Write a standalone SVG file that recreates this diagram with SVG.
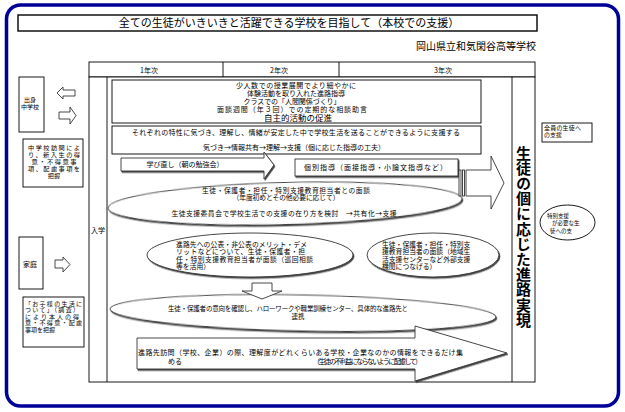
<svg xmlns="http://www.w3.org/2000/svg" width="625" height="412" viewBox="0 0 625 412">
<defs>
<filter id="sh" x="-5%" y="-10%" width="110%" height="125%"><feDropShadow dx="1" dy="1.4" stdDeviation="0" flood-color="#333" flood-opacity="0.9"/></filter>
</defs>
<style>
.s{fill:#fff;stroke:#000;stroke-width:0.9}
.l{fill:none;stroke:#000;stroke-width:0.9}
.a{fill:#fff;stroke:#333;stroke-width:0.9}
text{font-family:"Noto Sans CJK JP","Noto Sans CJK SC",sans-serif;fill:#000;font-size:7px}
.m{text-anchor:middle}
.e{text-anchor:end}
.f55{font-size:5.5px}
.f6{font-size:6px}
.f62{font-size:6.2px}
.f65{font-size:6.5px}
.f68{font-size:6.8px}
.f85{font-size:8.5px}
.f10{font-size:10px}
.f11{font-size:11px}
.v{font-size:15px;font-weight:700;writing-mode:vertical-rl;letter-spacing:0.2px}
</style>
<rect width="625" height="412" fill="#fff"/>
<rect x="6.5" y="5" width="612" height="401" rx="14" fill="none" stroke="#000099" stroke-width="3.5"/>

<g id="title">
<rect x="18" y="15" width="519" height="16" fill="#fff" stroke="#000" stroke-width="1.4"/>
<text class="m f11" x="289" y="26.5">全ての生徒がいきいきと活躍できる学校を目指して（本校での支援）</text>
</g>
<g id="school">
<text class="e f10" x="536" y="50">岡山県立和気閑谷高等学校</text>
</g>

<g id="table">
<rect class="s" x="89" y="62" width="446" height="15"/>
<line class="l" x1="223" y1="62" x2="223" y2="77"/>
<line class="l" x1="339" y1="62" x2="339" y2="77"/>
<text class="m" x="149" y="72.5">1年次</text>
<text class="m" x="279" y="72.5">2年次</text>
<text class="m" x="443" y="72.5">3年次</text>
<rect class="s" x="89" y="77" width="446" height="305"/>
<line class="l" x1="107" y1="77" x2="107" y2="382"/>
<line class="l" x1="512" y1="77" x2="512" y2="382"/>
</g>
<g id="nyugaku">
<text class="m" x="98" y="232.5">入学</text>
</g>

<g id="jugyo">
<rect class="s" x="112" y="80" width="369" height="43"/>
<text class="m" x="296" y="88" textLength="120">少人数での授業展開でより細やかに</text>
<text class="m" x="296" y="96" textLength="98">体験活動を取り入れた進路指導</text>
<text class="m" x="292" y="103.5" textLength="97">クラスでの「人間関係づくり」</text>
<text class="m" x="292" y="111.5" textLength="150">面談週間（年３回）での定期的な相談助言</text>
<text class="m f85" x="298" y="121">自主的活動の促進</text>
</g>
<g id="tokusei">
<rect class="s" x="112" y="126" width="369" height="28"/>
<text x="132" y="134.7" textLength="328">それぞれの特性に気づき、理解し、情緒が安定した中で学校生活を送ることができるように支援する</text>
<text class="m" x="294" y="149.7">気づき→情報共有→理解→支援（個に応じた指導の工夫）</text>
</g>
<g id="manabi">
<polygon class="a" filter="url(#sh)" points="121,158 264,158 264,152 274,165 264,179 264,171 121,171"/>
<text class="m" x="185" y="167">学び直し（朝の勉強会）</text>
</g>
<g id="kobetsu">
<rect class="a" filter="url(#sh)" x="295" y="159" width="163" height="17"/>
<text x="304" y="170" textLength="143">個別指導（面接指導・小論文指導など）</text>
</g>
<g id="mendan">
<ellipse class="a" filter="url(#sh)" cx="285" cy="203.5" rx="177" ry="21" transform="rotate(-1.5 285 203.5)"/>
<text class="m f68" x="286" y="192.5" textLength="168">生徒・保護者・担任・特別支援教育担当者との面談</text>
<text class="m f68" x="286" y="200.2" textLength="107">（年度初めとその他必要に応じて）</text>
<text class="m f68" x="284" y="215.7" textLength="225">生徒支援委員会で学校生活での支援の在り方を検討　→共有化→支援</text>
</g>
<g id="koho">
<ellipse class="a" filter="url(#sh)" cx="250" cy="255" rx="103" ry="22"/>
<text class="f68" x="176" y="246.5" textLength="131">進路先への公表・非公表のメリット・デメ</text>
<text class="f68" x="176" y="254" textLength="129">リットなどについて、生徒・保護者・担</text>
<text class="f68" x="176" y="261.5" textLength="137">任・特別支援教育担当者が面談（巡回相談</text>
<text class="f68" x="176" y="269">等を活用）</text>
</g>
<g id="gaibu">
<ellipse class="a" filter="url(#sh)" cx="433" cy="255" rx="66" ry="22"/>
<text class="f68" x="382" y="246.5">生徒・保護者・担任・特別支</text>
<text class="f68" x="382" y="254">援教育担当者の面談（地域生</text>
<text class="f68" x="382" y="261.5">活支援センターなど外部支援</text>
<text class="f68" x="382" y="269">機関につなげる）</text>
</g>
<g id="ikou">
<ellipse class="a" filter="url(#sh)" cx="303" cy="313" rx="193" ry="18" transform="rotate(1.2 303 313)"/>
<text class="f65" x="168" y="310.5" textLength="240">生徒・保護者の意向を確認し、ハローワークや職業訓練センター、具体的な進路先と</text>
<text class="m f65" x="298" y="318.5">連携</text>
</g>
<g id="homon">
<polygon class="a" filter="url(#sh)" points="137,338 415,338 415,326 507,353 415,381 415,369 137,369"/>
<text x="138" y="354.5" textLength="325">進路先訪問（学校、企業）の際、理解度がどれくらいある学校・企業なのかの情報をできるだけ集</text>
<text class="m" x="175" y="363.5">める</text>
<text x="313" y="363.5" textLength="109">（生徒の不利益にならないように配慮して）</text>
</g>

<g id="goal">
<text class="v" x="523.5" y="145.5">生徒の個に応じた進路実現</text>
</g>

<g id="shusshin">
<rect class="s" x="19" y="77" width="25" height="55"/>
<text class="m f6" x="30" y="102.3">出身</text>
<text class="m f6" x="30" y="109">中学校</text>
</g>
<g id="chugaku-homon">
<rect class="s" x="23" y="139" width="60" height="48"/>
<text class="m f62" x="54" y="149.8" textLength="52">中学校訪問によ</text>
<text class="m f62" x="54" y="156.8" textLength="52">り、新入生の得</text>
<text class="m f62" x="54" y="163.8" textLength="45">意・不得意事</text>
<text class="m f62" x="54" y="170.8" textLength="52">項、配慮事項を</text>
<text class="m f62" x="54" y="177.8">把握</text>
</g>
<g id="katei">
<rect class="s" x="19" y="237" width="24" height="52"/>
<text class="m" x="30" y="266.5">家庭</text>
</g>
<g id="okosama">
<rect class="s" x="23" y="297" width="61" height="50"/>
<text class="f6" x="25" y="305.5" textLength="57">「お子様の生活に</text>
<text class="f6" x="25" y="312.1" textLength="54">ついて」（調査）</text>
<text class="f6" x="25" y="318.7" textLength="54">により本人の得</text>
<text class="f6" x="25" y="325.3" textLength="57">意・不得意・配慮</text>
<text class="f6" x="25" y="331.9">事項を把握</text>
</g>
<g id="zenin">
<rect class="s" x="542" y="123" width="50" height="19"/>
<text class="f6" x="544" y="130.3" textLength="37">全員の生徒へ</text>
<text class="f6" x="544" y="137">の支援</text>
</g>
<g id="tokubetsu">
<ellipse class="s" cx="567.5" cy="222.5" rx="27.5" ry="17.5"/>
<text class="f55" x="547" y="218">特別支援</text>
<text class="f55" x="552" y="225.3">が必要な生</text>
<text class="f55" x="550" y="232.6">徒への支</text>
</g>

<g id="connectors">
<polygon class="a" points="57,93 63,87 63,90 75,90 75,96 63,96 63,99"/>
<polygon class="a" points="59,112 70,112 70,107 76,115.5 70,124 70,119 59,119"/>
<polygon class="a" points="55,260 63,260 63,257 70,264.5 63,272 63,268 55,268"/>
<polygon class="a" points="252,283 272,283 272,291 282,291 262,299 242,291 252,291"/>
<rect class="a" x="459" y="170" width="2" height="26"/>
<rect class="a" x="462.5" y="170" width="2" height="26"/>
<polygon class="a" points="466,170 491,170 491,156 504,183 491,209 491,196 466,196"/>
</g>
</svg>
